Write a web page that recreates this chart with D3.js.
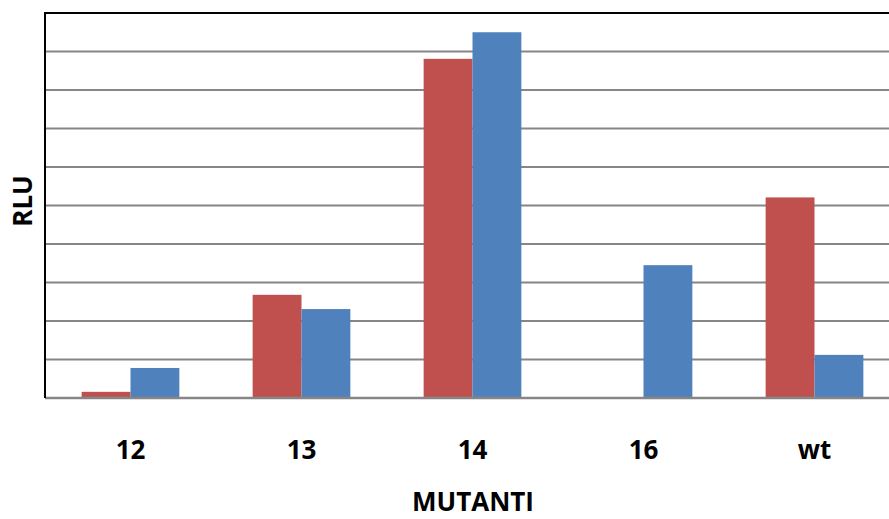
<!DOCTYPE html>
<html>
<head>
<meta charset="utf-8">
<script src="https://cdn.jsdelivr.net/npm/d3@7"></script>
<style>
html,body{margin:0;padding:0;background:#fff;overflow:hidden;}
</style>
</head>
<body>
<svg id="chart" width="889" height="519"></svg>
<script>
const categories = ["12", "13", "14", "16", "wt"];
const seriesRed = [0.16, 2.68, 8.81, 0, 5.21];
const seriesBlue = [0.78, 2.31, 9.5, 3.45, 1.12];
const yTicks = [0,1,2,3,4,5,6,7,8,9,10];

(function(){
const svg = d3.select("#chart");
const pLeft = 45, pRight = 900, pTop = 13, pBottom = 398;

const x = d3.scaleBand().domain(categories).range([pLeft, pRight]).paddingInner(0).paddingOuter(0);
const y = d3.scaleLinear().domain([0, 10]).range([pBottom, pTop]);
const inner = d3.scaleBand().domain(["red","blue"]).range([0, x.bandwidth()]).paddingOuter(0.75).paddingInner(0);

const grid = svg.append("g");
grid.selectAll("line").data(yTicks.filter(d => d > 0 && d < 10)).join("line")
  .attr("x1", pLeft).attr("x2", pRight)
  .attr("y1", d => y(d)).attr("y2", d => y(d))
  .attr("stroke", "#868686").attr("stroke-width", 2);

const data = categories.map((c, i) => ({c, red: seriesRed[i], blue: seriesBlue[i]}));
const colors = {red: "#C0504D", blue: "#4F81BD"};

const g = svg.append("g");
["red","blue"].forEach(s => {
  g.selectAll("rect." + s).data(data).join("rect")
    .attr("class", s)
    .attr("x", d => x(d.c) + inner(s))
    .attr("width", inner.bandwidth())
    .attr("y", d => y(d[s]))
    .attr("height", d => y(0) - y(d[s]))
    .attr("fill", colors[s]);
});

svg.append("line").attr("x1", pLeft).attr("x2", pRight).attr("y1", y(0)).attr("y2", y(0))
  .attr("stroke", "#868686").attr("stroke-width", 2.5);
svg.append("line").attr("x1", pLeft - 1).attr("x2", pRight).attr("y1", y(10)).attr("y2", y(10))
  .attr("stroke", "#000").attr("stroke-width", 2);
svg.append("line").attr("x1", pLeft).attr("x2", pLeft).attr("y1", y(10)).attr("y2", y(0))
  .attr("stroke", "#000").attr("stroke-width", 2);

const xAxis = d3.axisBottom(x).tickSize(0).tickPadding(0);
const ax = svg.append("g").attr("transform", `translate(0,${pBottom})`).call(xAxis);
ax.select(".domain").remove();
ax.selectAll("text")
  .attr("y", 61).attr("dy", null)
  .attr("font-family", "'Open Sans', sans-serif")
  .attr("font-weight", "bold").attr("font-size", 26).attr("fill", "#000");

svg.append("text").attr("x", 473).attr("y", 511).attr("text-anchor", "middle")
  .attr("font-family", "'Open Sans', sans-serif").attr("font-weight", "bold")
  .attr("font-size", 26).attr("fill", "#000").text("MUTANTI");

svg.append("text").attr("transform", "translate(32,201) rotate(-90)").attr("text-anchor", "middle")
  .attr("font-family", "'Open Sans', sans-serif").attr("font-weight", "bold")
  .attr("font-size", 26).attr("fill", "#000").text("RLU");
})();
</script>
</body>
</html>
